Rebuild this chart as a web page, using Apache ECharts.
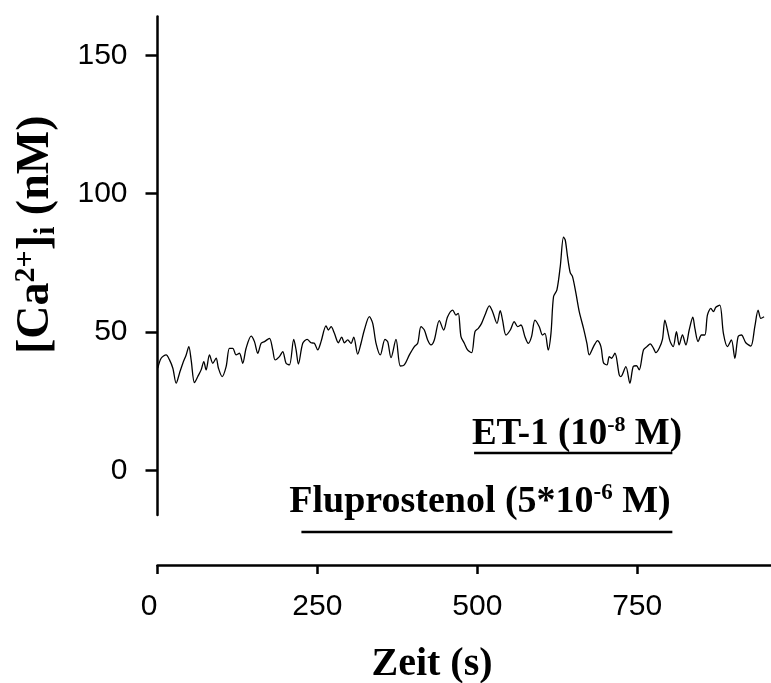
<!DOCTYPE html>
<html><head><meta charset="utf-8">
<script src="https://cdn.jsdelivr.net/npm/echarts@6/dist/echarts.min.js"></script>
<style>html,body{margin:0;padding:0;background:#fff}#c{width:771px;height:683px}</style>
</head><body><div id="c"></div>
<script>
// Time (s)
const timeS = [
0.5,5.7,13.5,18.8,24,29.2,34.4,39.6,44.8,49,
52.6,57.8,63,68.2,72.4,76,81.3,86.5,91.7,95.3,
101,107.3,112.5,117.7,122.9,128.1,133.3,138.5,146.4,151.6,
156.8,162,167.2,175,180.2,183.9,190.6,195.8,201,206.3,
213,216.7,220.3,227.1,233.9,240.1,245.3,250.5,255.7,263.5,
267.2,271.4,276.6,282.8,288,292.2,297.4,302.6,306.8,313,
318.2,323.4,331.3,336.5,341.7,348.4,355.7,359.9,365.1,372.9,
379.7,385.9,393.8,401.6,406.8,412,417.2,422.4,427.6,432.8,
440.6,447.4,453.6,461.5,466.7,470.3,
474.5,479.7,484.8,491.1,496.4,501.6,506.7,512,518.8,523.9,
530.8,535.9,539.5,544.8,551.6,557.8,563,568.3,574.5,579.7,
584.8,590.2,596.9,602,605.8,610.9,615.2,619.2,624.5,629.7,
634.8,637.5,641.1,645.3,648.9,654.2,659.4,666.1,671.4,675,
681.7,688,693.3,697.3,702.7,706.3,709.8,715.2,721.9,724.5,
732.3,738.6,743.8,748.9,753.1,759.8,765.2,770.3,775.5,779.2,
784.4,789.5,793.3,797.3,801.6,806.3,811.4,815.6,820.8,826.1,
831.3,837,840.2,845.3,850.5,855.8,859.8,865.2,869.2,872.9,
879.2,884.8,891.1,897.3,902.7,907.8,913,919.8,927.7,933.9,
939.1,943.3,948.4
];
// [Ca2+]i (nM)
const calciumNM = [
37.0,40.6,41.8,40.0,37.0,31.6,35.2,38.8,41.8,44.8,
40.0,31.8,34.0,36.4,39.4,36.4,41.8,38.8,40.6,37.0,
34.0,37.6,44.2,44.2,41.8,42.4,38.8,44.2,48.6,46.6,
42.4,46.0,46.6,47.8,43.6,40.0,41.2,43.0,38.8,38.2,
47.4,43.6,38.5,46.0,47.4,46.2,46.0,43.6,46.6,52.3,
50.8,52.0,49.6,46.2,48.2,46.2,47.2,46.0,48.2,42.1,
46.0,50.8,55.6,53.2,46.0,41.8,47.4,46.6,40.8,47.4,
37.8,38.2,41.8,44.8,46.0,52.0,50.8,47.2,45.4,47.2,
54.2,50.8,55.6,58.0,56.2,56.8,
48.4,46,43.6,42.6,50.2,51.4,53.2,56.2,59.5,57.4,
53.2,57.8,54.4,49,50.8,53.8,52,52.6,48.4,46,
48.4,54.4,52,49,49.6,43.6,49.6,62.8,65.3,73.7,
84.3,83.3,77.3,71.5,70.1,64.1,57.4,51.4,46,41.8,
44.8,47,44.8,39,38.2,41.2,40.6,42.4,34.6,34,
37.6,31.6,37.6,37.9,36.4,43.6,44.8,45.8,44.2,42.6,
44.2,47.4,54.4,50.8,46.6,44.8,50.2,45.4,49,45.4,
50.8,55.4,51.4,46.6,49,49,56.2,58.6,57.4,59,
59.8,49.6,44.8,47.2,40.6,48.4,49,46.2,45,52,
58,55,55.6
];
const yTicks = [0, 50, 100, 150];
const xTicks = [0, 250, 500, 750];
// treatment bars
const treatments = ['ET-1', 'Fluprostenol'];
const treatStart = [495, 225];
const treatEnd = [805, 805];

const SANS = "'Liberation Sans', Arial, sans-serif";
const SERIF = "'Liberation Serif', 'Times New Roman', serif";

const chart = echarts.init(document.getElementById('c'), null, {renderer: 'canvas'});
const trace = timeS.map((t, i) => [t, calciumNM[i]]);
const barSeries = treatments.map((name, i) => ({
  type: 'line', xAxisIndex: 1, yAxisIndex: 1, silent: true,
  showSymbol: false, symbol: 'none',
  lineStyle: {color: '#000', width: 2.5},
  data: [[treatStart[i], name], [treatEnd[i], name]]
}));

function annot(fs) {
  return {
    b: {fontFamily: SERIF, fontWeight: 'bold', fontSize: fs, color: '#000', lineHeight: fs + 3},
    s: {fontFamily: SERIF, fontWeight: 'bold', fontSize: Math.round(fs * 0.6), color: '#000', verticalAlign: 'top', lineHeight: Math.round(fs * 0.6)}
  };
}

chart.setOption({
  animation: false,
  backgroundColor: '#fff',
  title: [
    {text: '{b|ET-1 (10}{s|-8}{b| M)}', left: 577, top: 434, padding: 0,
     textAlign: 'center', textVerticalAlign: 'middle',
     textStyle: {rich: annot(37)}},
    {text: '{b|Fluprostenol (5*10}{s|-6}{b| M)}', left: 480, top: 502, padding: 0,
     textAlign: 'center', textVerticalAlign: 'middle',
     textStyle: {rich: annot(38)}}
  ],
  grid: [
    {left: 157.5, top: 16.5, width: 614, height: 498.5, containLabel: false, outerBoundsMode: 'none'},
    {left: 157.5, top: 413.5, width: 614, height: 158, containLabel: false, outerBoundsMode: 'none'}
  ],
  xAxis: [
    {type: 'value', gridIndex: 0, min: 0, max: 960, offset: 50,
     axisLine: {show: true, onZero: false, lineStyle: {color: '#000', width: 2.5}},
     axisTick: {show: true, inside: false, length: 9, customValues: xTicks, lineStyle: {color: '#000', width: 2.5}},
     axisLabel: {customValues: xTicks, fontSize: 30, fontFamily: SANS, color: '#000', margin: 27, alignMinLabel: 'right'},
     splitLine: {show: false},
     name: 'Zeit (s)', nameLocation: 'middle', nameGap: 80,
     nameTextStyle: {fontFamily: SERIF, fontWeight: 'bold', fontSize: 40, color: '#000', padding: [0, 65, 0, 0]}},
    {type: 'value', gridIndex: 1, min: 0, max: 960, show: false}
  ],
  yAxis: [
    {type: 'value', gridIndex: 0, min: -16, max: 164,
     axisLine: {show: true, onZero: false, lineStyle: {color: '#000', width: 2.5}},
     axisTick: {show: true, inside: false, length: 12, customValues: yTicks, lineStyle: {color: '#000', width: 2.5}},
     axisLabel: {customValues: yTicks, fontSize: 30, fontFamily: SANS, color: '#000', margin: 30},
     splitLine: {show: false},
     name: '{b|[Ca}{sp|2+}{b|]}{sb|i}{b| (nM)}', nameLocation: 'middle', nameRotate: 90, nameGap: 96,
     nameTextStyle: {padding: [0, 0, 0, 62], rich: {
       b: {fontFamily: SERIF, fontWeight: 'bold', fontSize: 46, color: '#000', lineHeight: 50},
       sp: {fontFamily: SERIF, fontWeight: 'bold', fontSize: 30, color: '#000', verticalAlign: 'top', lineHeight: 30},
       sb: {fontFamily: SERIF, fontWeight: 'bold', fontSize: 30, color: '#000', verticalAlign: 'bottom', lineHeight: 30}
     }}},
    {type: 'category', gridIndex: 1, data: treatments, inverse: true, show: false}
  ],
  series: [
    {type: 'line', xAxisIndex: 0, yAxisIndex: 0, data: trace, showSymbol: false, symbol: 'none',
     smooth: 0.3, silent: true, lineStyle: {color: '#000', width: 1.3}}
  ].concat(barSeries)
});
</script>
</body></html>
